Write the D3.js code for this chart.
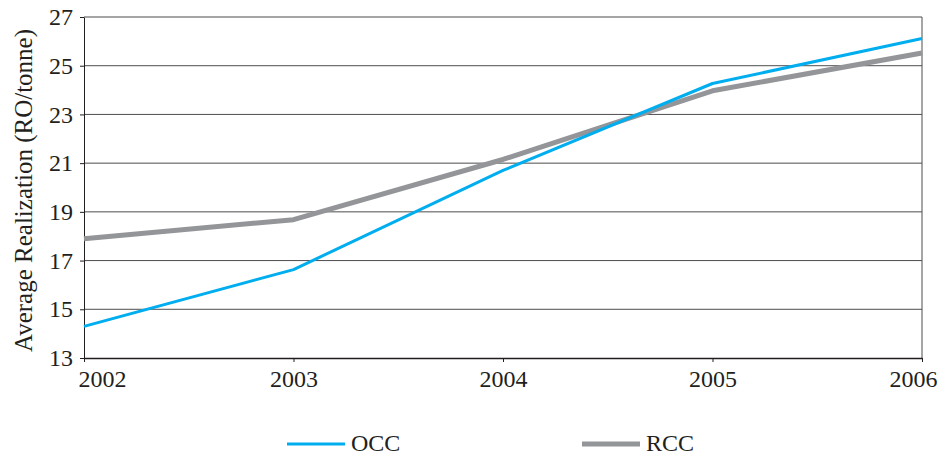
<!DOCTYPE html>
<html>
<head>
<meta charset="utf-8">
<script src="https://cdn.jsdelivr.net/npm/d3@7"></script>
<style>
  body { margin: 0; background: #fff; }
  svg text { font-family: "Liberation Serif", "Times New Roman", serif; fill: #231f20; }
</style>
</head>
<body>
<svg id="chart" width="939" height="455"></svg>
<script>
// data
var years = [2002, 2003, 2004, 2005, 2006]
  , occ = [14.3, 16.63, 20.7, 24.27, 26.12]
  , rcc = [17.9, 18.68, 21.15, 23.97, 25.52]
  , yTicks = [13, 15, 17, 19, 21, 23, 25, 27]
  , seriesNames = ["OCC", "RCC"]
;

var svg = d3.select("#chart")
  , margin = { top: 17, left: 84, right: 17, bottom: 97 }
  , width = 939 - margin.left - margin.right
  , height = 455 - margin.top - margin.bottom
  , colors = { OCC: "#00aeef", RCC: "#939598" }
  , widths = { OCC: 3, RCC: 5 }
  , fontSize = 24
;

var x = d3.scaleLinear().domain([2002, 2006]).range([0, width]);
var y = d3.scaleLinear().domain([13, 27]).range([height, 0]);

var g = svg.append("g")
    .attr("transform", "translate(" + margin.left + "," + margin.top + ")");

// horizontal grid
g.append("g")
    .selectAll("line")
    .data(yTicks.slice(1))
  .enter().append("line")
    .attr("x1", 0).attr("x2", width)
    .attr("y1", y).attr("y2", y)
    .attr("stroke", "#4d4d4f")
    .attr("stroke-width", 1)
;

// right border
g.append("line")
    .attr("x1", width).attr("x2", width)
    .attr("y1", 0).attr("y2", height)
    .attr("stroke", "#4d4d4f");

// y axis
var yAxis = g.append("g")
    .call(d3.axisLeft(y).tickValues(yTicks).tickSize(4).tickPadding(7).tickSizeOuter(0));
yAxis.select(".domain").attr("stroke", "#231f20");
yAxis.selectAll(".tick line").attr("stroke", "#231f20");
yAxis.selectAll("text")
    .attr("font-size", fontSize)
    .attr("font-family", "Liberation Serif")
    .attr("fill", "#231f20");

// x axis
var xAxis = g.append("g")
    .attr("transform", "translate(0," + height + ")")
    .call(d3.axisBottom(x).tickValues(years).tickFormat(d3.format("d"))
      .tickSize(4).tickPadding(8).tickSizeOuter(0));
xAxis.select(".domain").attr("stroke", "#231f20").attr("stroke-width", 1.5);
xAxis.selectAll(".tick line").attr("stroke", "#231f20");
xAxis.selectAll("text")
    .attr("font-size", fontSize)
    .attr("font-family", "Liberation Serif")
    .attr("fill", "#231f20");
// end labels are pulled inside like the original
xAxis.selectAll(".tick text")
    .filter(function(d) { return d === 2002; })
    .attr("text-anchor", "start").attr("x", -6);
xAxis.selectAll(".tick text")
    .filter(function(d) { return d === 2006; })
    .attr("text-anchor", "end").attr("x", 15);

// y axis title
svg.append("text")
    .attr("transform", "translate(32," + (margin.top + height / 2 + 3) + ") rotate(-90)")
    .attr("text-anchor", "middle")
    .attr("font-size", 25)
    .text("Average Realization (RO/tonne)");

// lines
var line = d3.line()
    .x(function(d, i) { return x(years[i]); })
    .y(function(d) { return y(d); });

var series = [
    { name: "RCC", values: rcc },
    { name: "OCC", values: occ }
];

g.selectAll(".series")
    .data(series)
  .enter().append("path")
    .attr("class", "series")
    .attr("fill", "none")
    .attr("stroke", function(d) { return colors[d.name]; })
    .attr("stroke-width", function(d) { return widths[d.name]; })
    .attr("stroke-linejoin", "round")
    .attr("d", function(d) { return line(d.values); })
;

// legend
var legendX = d3.scaleOrdinal().domain(seriesNames).range([287, 582]);
var legend = svg.append("g")
    .selectAll("g")
    .data(seriesNames)
  .enter().append("g")
    .attr("transform", function(d) { return "translate(" + legendX(d) + ",444)"; });
legend.append("line")
    .attr("x1", 0).attr("x2", 58)
    .attr("stroke", function(d) { return colors[d]; })
    .attr("stroke-width", function(d) { return widths[d]; });
legend.append("text")
    .attr("x", 64)
    .attr("y", 7)
    .attr("font-size", fontSize)
    .text(function(d) { return d; });
</script>
</body>
</html>
